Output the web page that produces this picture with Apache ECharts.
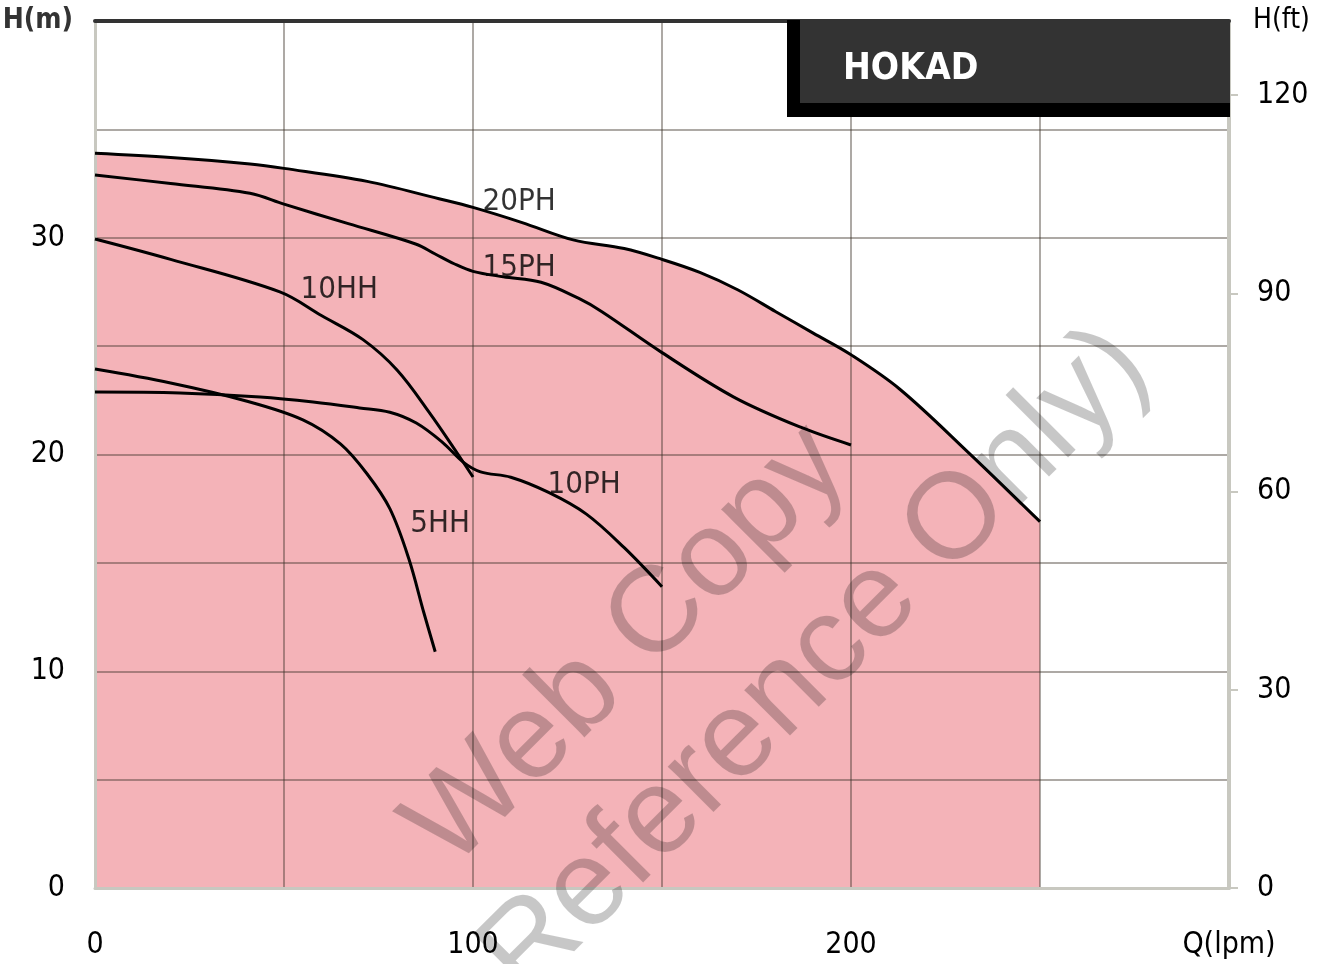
<!DOCTYPE html>
<html>
<head>
<meta charset="utf-8">
<title>HOKAD pump curves</title>
<script src="https://cdn.jsdelivr.net/npm/echarts@6/dist/echarts.min.js"></script>
<style>
  html, body { margin: 0; padding: 0; background: #fff; }
  #chart { width: 1325px; height: 964px; }
</style>
</head>
<body>
<div id="chart"></div>
<script>
// flow Q (lpm) and head H (m)
const q20PH = [0, 20, 41, 50, 72, 91, 100, 113, 126.5, 140, 150, 160, 170, 180, 190, 200, 213, 231, 250]
const h20PH = [33.9, 33.7, 33.4, 33.2, 32.6, 31.8, 31.4, 30.7, 29.9, 29.5, 29.0, 28.4, 27.6, 26.6, 25.6, 24.6, 23.0, 20.1, 16.9]

const q15PH = [0, 20, 41, 50, 67, 85, 90, 95, 100, 108, 118, 128, 134, 150, 169, 186.5, 200]
const h15PH = [32.9, 32.5, 32.05, 31.55, 30.65, 29.7, 29.25, 28.8, 28.45, 28.2, 27.95, 27.2, 26.6, 24.7, 22.65, 21.27, 20.44]

const q10HH = [0, 20, 48.9, 60, 70.9, 79.9, 88.6, 95.8, 100]
const h10HH = [29.94, 29.0, 27.5, 26.4, 25.3, 23.9, 21.9, 20.07, 18.96]

const q10PH = [0, 22.5, 43.7, 57.7, 70, 78, 85, 92, 97.4, 102, 110, 120, 130, 140, 150]
const h10PH = [22.88, 22.84, 22.65, 22.42, 22.15, 21.95, 21.45, 20.55, 19.65, 19.2, 18.95, 18.25, 17.25, 15.7, 13.9]

const q5HH = [0, 20, 40, 55, 65, 72, 78, 83, 87, 90]
const h5HH = [23.94, 23.3, 22.47, 21.6, 20.48, 19.1, 17.5, 15.2, 12.7, 10.9]

// curve names and where their labels sit (Q, H)
const curveNames = ['20PH', '15PH', '10HH', '10PH', '5HH']
const labelQ = [112.2, 112.2, 64.6, 129.4, 91.3]
const labelH = [31.65, 28.6, 27.6, 18.6, 16.8]

const xLabels = [0, 100, 200]
const mTicks = [0, 10, 20, 30]
const ftTicks = [0, 30, 60, 90, 120]
const M_TO_FT = 3.28084

const FONT = '"DejaVu Sans Condensed", "Liberation Sans Narrow", sans-serif'
const WM_FONT = '122px "Liberation Sans", Arial, sans-serif'

const pairs = (qs, hs) => qs.map((q, i) => [q, hs[i]])

const curves = [
  pairs(q20PH, h20PH),
  pairs(q15PH, h15PH),
  pairs(q10HH, h10HH),
  pairs(q10PH, h10PH),
  pairs(q5HH, h5HH)
]

const chart = echarts.init(document.getElementById('chart'))

const gridLine = { show: true, lineStyle: { color: 'rgba(60, 50, 40, 0.42)', width: 2 } }

const option = {
  animation: false,
  grid: { left: 95, right: 96, top: 21, bottom: 76, outerBoundsMode: 'none' },
  xAxis: [
    {
      type: 'value',
      min: 0,
      max: 300,
      interval: 50,
      z: 3,
      axisLine: { onZero: false, lineStyle: { color: '#c8c8c0', width: 3 } },
      axisTick: { show: false },
      axisLabel: {
        margin: 42,
        fontSize: 30,
        fontFamily: FONT,
        color: '#000',
        formatter: v => v === 300 ? 'Q(lpm)' : (xLabels.includes(v) ? String(v) : '')
      },
      splitLine: gridLine
    },
    {
      type: 'value',
      position: 'top',
      min: 0,
      max: 300,
      z: 3,
      axisLine: { show: true, onZero: false, lineStyle: { color: '#333', width: 4 } },
      axisTick: { show: false },
      axisLabel: { show: false },
      splitLine: { show: false }
    }
  ],
  yAxis: [
    {
      type: 'value',
      min: 0,
      max: 40,
      interval: 5,
      z: 3,
      name: 'H(m)',
      nameLocation: 'end',
      nameGap: 0,
      nameTextStyle: {
        fontSize: 28,
        fontFamily: FONT,
        fontWeight: 'bold',
        color: '#333',
        align: 'right',
        verticalAlign: 'middle',
        padding: [0, 22, 0, 0]
      },
      axisLine: { show: true, onZero: false, lineStyle: { color: '#c8c8c0', width: 3 } },
      axisTick: { show: false },
      axisLabel: {
        margin: 30,
        fontSize: 30,
        fontFamily: FONT,
        color: '#000',
        formatter: v => mTicks.includes(v) ? String(v) : ''
      },
      splitLine: gridLine
    },
    {
      type: 'value',
      position: 'right',
      min: 0,
      max: 40 * M_TO_FT,
      interval: 30,
      z: 3,
      name: 'H(ft)',
      nameLocation: 'end',
      nameGap: 0,
      nameTextStyle: {
        fontSize: 28,
        fontFamily: FONT,
        color: '#000',
        align: 'left',
        verticalAlign: 'middle',
        padding: [18, 0, 0, 24]
      },
      axisLine: { show: true, onZero: false, lineStyle: { color: '#c8c8c0', width: 4 } },
      axisTick: { show: true, length: 9, lineStyle: { color: '#c8c8c0', width: 2 }, customValues: ftTicks },
      axisLabel: {
        margin: 28,
        fontSize: 30,
        fontFamily: FONT,
        color: '#000',
        customValues: ftTicks,
        formatter: v => ftTicks.includes(v) ? String(v) : ''
      },
      splitLine: { show: false }
    }
  ],
  series: [
    {
      name: 'area',
      type: 'line',
      data: curves[0],
      smooth: 0.35,
      symbol: 'none',
      silent: true,
      z: 1,
      lineStyle: { width: 0 },
      areaStyle: { color: '#f4b3b8', opacity: 1 }
    },
    ...curves.map((data, i) => ({
      name: curveNames[i],
      type: 'line',
      data: data,
      smooth: 0.35,
      symbol: 'none',
      z: 5,
      lineStyle: { color: '#000', width: 3 }
    })),
    {
      name: 'labels',
      type: 'scatter',
      z: 6,
      symbolSize: 1,
      itemStyle: { color: 'rgba(0,0,0,0)' },
      data: curveNames.map((n, i) => ({ name: n, value: [labelQ[i], labelH[i]] })),
      label: {
        show: true,
        position: 'inside',
        formatter: p => p.name,
        fontSize: 31,
        fontFamily: FONT,
        color: '#000'
      }
    }
  ],
  graphic: [
    {
      type: 'rect',
      z: 10,
      shape: { x: 787, y: 20, width: 443, height: 97 },
      style: { fill: '#000' }
    },
    {
      type: 'rect',
      z: 11,
      shape: { x: 800, y: 20, width: 430, height: 83 },
      style: { fill: '#333' }
    },
    {
      type: 'text',
      z: 12,
      left: 843,
      top: 51,
      style: {
        text: 'HOKAD',
        fill: '#fff',
        font: 'bold 37px ' + FONT
      }
    },
    {
      type: 'group',
      z: 20,
      x: 454,
      y: 874,
      rotation: Math.PI / 4,
      silent: true,
      children: [
        {
          type: 'text',
          z: 20,
          x: 0,
          y: -38,
          style: {
            text: 'Web Copy',
            fill: 'rgba(0,0,0,0.22)',
            font: WM_FONT,
            align: 'left',
            verticalAlign: 'middle'
          }
        },
        {
          type: 'text',
          z: 20,
          x: -39,
          y: 106,
          style: {
            text: 'Reference Only)',
            fill: 'rgba(0,0,0,0.22)',
            font: WM_FONT,
            align: 'left',
            verticalAlign: 'middle'
          }
        }
      ]
    }
  ]
}

chart.setOption(option)
</script>
</body>
</html>
